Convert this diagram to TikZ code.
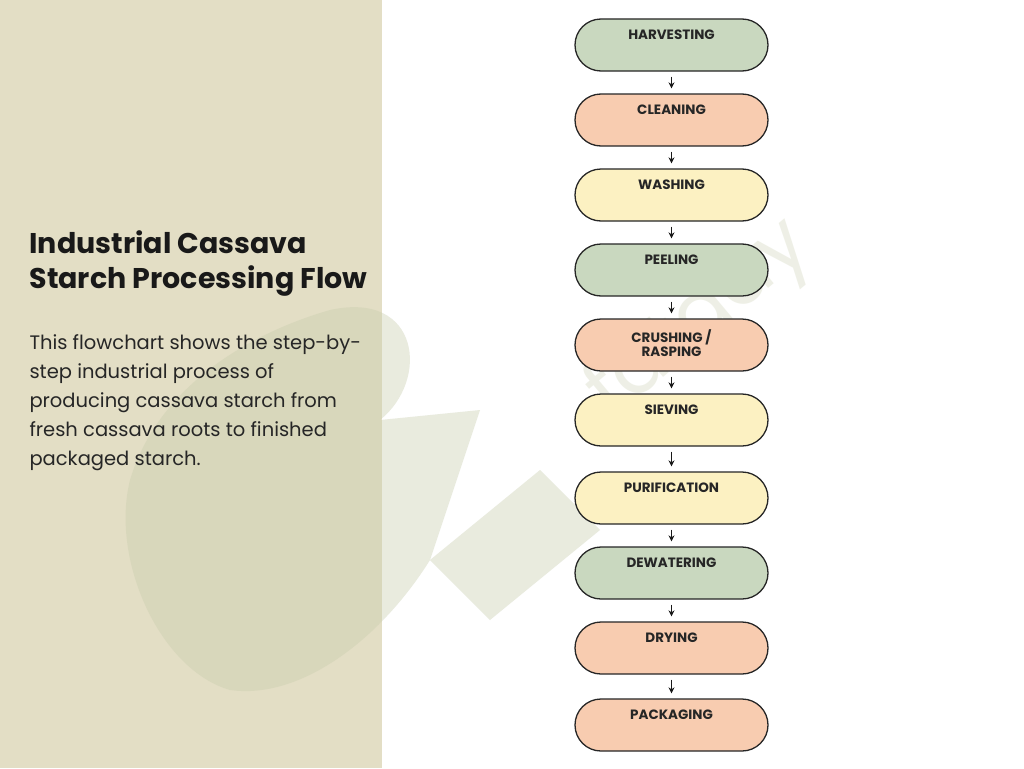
\documentclass[tikz,border=0pt]{standalone}
\usepackage{fontspec}
\setmainfont{Poppins}
\usetikzlibrary{shapes.misc,arrows.meta}
\definecolor{gr}{HTML}{C9D8BF}
\definecolor{pe}{HTML}{F8CCB0}
\definecolor{ye}{HTML}{FCF1C2}
\definecolor{pan}{HTML}{E3DEC5}
\definecolor{wm}{HTML}{C8CDAE}
\begin{document}
\begin{tikzpicture}[x=1pt,y=-1pt,
 stepbox/.style={rounded rectangle,draw=black!85,line width=1.3pt,minimum width=193pt,minimum height=52pt,inner sep=0pt},
 lab/.style={font=\bfseries\fontsize{13.5}{14}\selectfont,align=center,anchor=north,text=black!85},
 arr/.style={-{Stealth[length=6pt,width=6pt]},line width=1.2pt,draw=black!90,shorten <=5pt,shorten >=5pt}]
\useasboundingbox (0,0) rectangle (1024,768);
\fill[white] (0,0) rectangle (1024,768);
\fill[pan] (0,0) rectangle (382,768);
% watermark
\begin{scope}[opacity=0.4]
\fill[wm] (130,480) .. controls (160,380) and (260,330) .. (330,310) .. controls (420,290) and (430,380) .. (380,420) -- (480,410) -- (430,560) .. controls (380,640) and (300,700) .. (230,690) .. controls (160,670) and (110,560) .. (130,480) -- cycle;
\fill[wm] (430,560) -- (540,470) -- (600,530) -- (490,620) -- cycle;
\end{scope}
\node[rotate=40,text=wm!60,opacity=0.5,font=\fontsize{80}{80}\selectfont] (wmt) at (700,320) {fataay};
% left text
\node[anchor=north west,align=left,font=\bfseries\fontsize{28.5}{35}\selectfont,text=black!90] (title) at (26,227) {Industrial Cassava\\Starch Processing Flow};
\node[anchor=north west,align=left,font=\fontsize{19.5}{29}\selectfont,text=black!85] (desc) at (26,331) {This flowchart shows the step-by-\\step industrial process of\\producing cassava starch from\\fresh cassava roots to finished\\packaged starch.};
% nodes
\foreach \n/\y/\c/\t in {a/45/gr/HARVESTING,b/120/pe/CLEANING,c/195/ye/WASHING,d/270/gr/PEELING,e/345/pe/{CRUSHING /\\RASPING},f/420/ye/SIEVING,g/498/ye/PURIFICATION,h/573/gr/DEWATERING,i/648/pe/DRYING,j/725/pe/PACKAGING}
 {\node[stepbox,fill=\c,label={[lab,yshift=-8pt]north:\t}] (\n) at (671.5,\y) {};}
\foreach \p/\q in {a/b,b/c,c/d,d/e,e/f,f/g,g/h,h/i,i/j}
 \draw[arr] (\p) -- (\q);
\end{tikzpicture}
\end{document}
